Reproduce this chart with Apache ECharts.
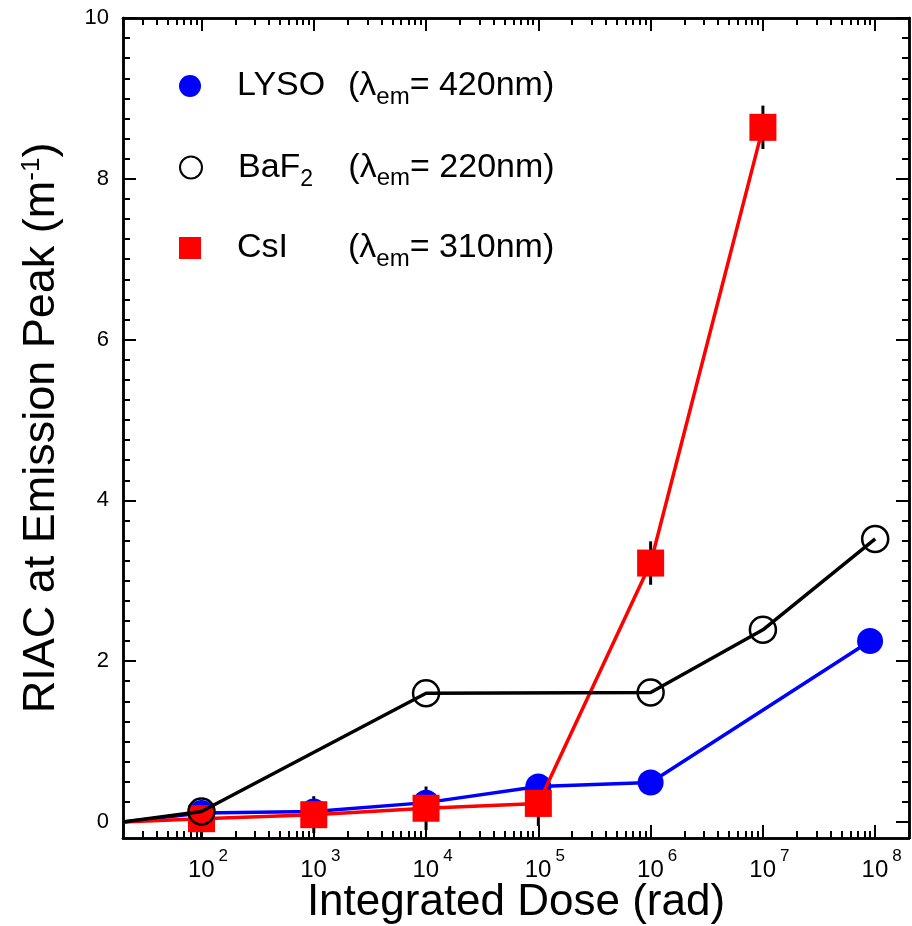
<!DOCTYPE html>
<html>
<head>
<meta charset="utf-8">
<script src="https://cdn.jsdelivr.net/npm/echarts@6/dist/echarts.min.js"></script>
<style>html,body{margin:0;padding:0;background:#fff}#c{width:912px;height:926px}</style>
</head>
<body>
<div id="c"></div>
<script>
// ---- data ----
const materials = ['LYSO', 'BaF2', 'CsI'];
const wavelengths = [420, 220, 310];
const lysoDose = [20, 1e2, 1e3, 1e4, 1e5, 1e6, 9e7];
const lysoRIAC = [0, 0.11, 0.13, 0.24, 0.44, 0.49, 2.25];
const baf2Dose = [20, 1e2, 1e4, 1e6, 1e7, 1e8];
const baf2RIAC = [0, 0.13, 1.60, 1.61, 2.39, 3.52];
const csiDose = [20, 1e2, 1e3, 1e4, 1e5, 1e6, 1e7];
const csiRIAC = [0, 0.04, 0.09, 0.17, 0.23, 3.22, 8.64];
const csiErr = [0, 0.23, 0.23, 0.27, 0.28, 0.27, 0.27];
const xMinDose = 20, xMaxDose = 2e8;
const xMajorExp = [2, 3, 4, 5, 6, 7, 8];
const yMin = -0.2, yMax = 10;
const yMajor = [0, 2, 4, 6, 8, 10];

// ---- helpers ----
const FONT = "'Liberation Sans', Arial, sans-serif";
const lg = Math.log10;
const xMin = lg(xMinDose), xMax = lg(xMaxDose);
const xMinor = [];
for (let k = 1; k <= 8; k++) for (let m = 2; m <= 9; m++) {
  const v = lg(m * Math.pow(10, k));
  if (v >= xMin - 1e-9 && v <= xMax + 1e-9) xMinor.push(v);
}
const yMinor = [];
for (let i = 1; i <= 40; i++) { const v = i * 0.25; if (v % 2 !== 0) yMinor.push(v); }

function pts(d, v) {
  return d.map((x, i) => i === 0 ? { value: [lg(x), v[i]], symbol: 'none' } : [lg(x), v[i]]);
}
const errData = csiDose.map((d, i) => [lg(d), csiRIAC[i] - csiErr[i], csiRIAC[i] + csiErr[i]]).filter((r, i) => csiErr[i] > 0);

const AX = { color: '#000', width: 2.5 };
function xAx(pos, ticks, len, labels) {
  return {
    type: 'value', position: pos, min: xMin, max: xMax,
    axisLine: { show: true, onZero: false, lineStyle: AX },
    splitLine: { show: false },
    axisTick: { show: true, inside: true, length: len, customValues: ticks, lineStyle: { color: '#000', width: 2 } },
    axisLabel: labels ? {
      show: true, customValues: xMajorExp, margin: 17,
      formatter: v => '{sp| }{b|10}{s|' + Math.round(v) + '}',
      rich: {
        sp: { width: 13, fontSize: 24, lineHeight: 30 },
        b: { fontSize: 24, lineHeight: 30, color: '#000', fontFamily: FONT },
        s: { fontSize: 17, lineHeight: 30, color: '#000', fontFamily: FONT, padding: [0, 0, 28, 4] }
      }
    } : { show: false }
  };
}
function yAx(pos, ticks, len, labels) {
  return {
    type: 'value', position: pos, min: yMin, max: yMax,
    axisLine: { show: true, onZero: false, lineStyle: AX },
    splitLine: { show: false },
    axisTick: { show: true, inside: true, length: len, customValues: ticks, lineStyle: { color: '#000', width: 2 } },
    axisLabel: labels ? { show: true, customValues: yMajor, margin: 14, fontSize: 22, color: '#000', fontFamily: FONT, formatter: v => String(Math.round(v)) } : { show: false }
  };
}

const xAxes = [xAx('bottom', xMajorExp, 13, true), xAx('bottom', xMinor, 7, false), xAx('top', xMajorExp, 13, false), xAx('top', xMinor, 7, false)];
xAxes[0].name = 'Integrated Dose (rad)';
xAxes[0].nameLocation = 'middle';
xAxes[0].nameGap = 43;
xAxes[0].nameMoveOverlap = false;
xAxes[0].nameTextStyle = { fontSize: 44, lineHeight: 44, color: '#000', fontFamily: FONT };
const yAxes = [yAx('left', yMajor, 13, true), yAx('left', yMinor, 7, false), yAx('right', yMajor, 13, false), yAx('right', yMinor, 7, false)];
yAxes[0].name = '{t|RIAC at Emission Peak (m}{s|-1}{t|)}';
yAxes[0].nameLocation = 'middle';
yAxes[0].nameGap = 56;
yAxes[0].nameMoveOverlap = false;
yAxes[0].nameTextStyle = {
  rich: {
    t: { fontSize: 45, lineHeight: 50, color: '#000', fontFamily: FONT },
    s: { fontSize: 26, lineHeight: 50, color: '#000', fontFamily: FONT, padding: [0, 0, 20, 0] }
  }
};

const legRich = {
  sp: { width: 31, fontSize: 34, lineHeight: 40 },
  n: { width: 111, fontSize: 34, lineHeight: 40, color: '#000', fontFamily: FONT },
  nb: { fontSize: 34, lineHeight: 40, color: '#000', fontFamily: FONT },
  nbs: { width: 48, fontSize: 23, lineHeight: 40, color: '#000', fontFamily: FONT, padding: [24, 0, 0, 0] },
  p: { fontSize: 34, lineHeight: 40, color: '#000', fontFamily: FONT },
  s: { fontSize: 24, lineHeight: 40, color: '#000', fontFamily: FONT, padding: [22, 0, 0, 0] }
};
function legFmt(name) {
  const i = materials.indexOf(name);
  const nm = name === 'BaF2' ? '{nb|BaF}{nbs|2}' : '{n|' + name + '}';
  return '{sp| }' + nm + '{p|(λ}{s|em}{p|= ' + wavelengths[i] + 'nm)}';
}
const icons = ['circle', 'circle', 'rect'];
const legendCenters = [83, 164, 245];
const legends = materials.map((m, i) => ({
  data: [{ name: m, icon: icons[i] }], orient: 'vertical', left: 179, top: legendCenters[i] - 20,
  padding: 0, itemWidth: 22, itemHeight: 22, selectedMode: false,
  formatter: legFmt, textStyle: { rich: legRich }
}));

const option = {
  animation: false,
  backgroundColor: '#fff',
  grid: { left: 123, right: 3, top: 18, bottom: 88, containLabel: false, outerBoundsMode: 'none' },
  xAxis: xAxes,
  yAxis: yAxes,
  legend: legends,
  series: [
    {
      type: 'custom', name: 'err', z: 1, xAxisIndex: 0, yAxisIndex: 0,
      encode: { x: 0, y: [1, 2] }, data: errData, silent: true,
      renderItem: (params, api) => {
        const x = api.value(0);
        const p1 = api.coord([x, api.value(1)]);
        const p2 = api.coord([x, api.value(2)]);
        return { type: 'line', shape: { x1: p1[0], y1: p1[1], x2: p2[0], y2: p2[1] }, style: { stroke: '#000', lineWidth: 3 } };
      }
    },
    {
      type: 'line', name: 'LYSO', z: 2, data: pts(lysoDose, lysoRIAC), symbol: 'circle', symbolSize: 26,
      lineStyle: { color: '#0000ff', width: 3.5 }, itemStyle: { color: '#0000ff' }, emphasis: { disabled: true }
    },
    {
      type: 'line', name: 'CsI', z: 3, data: pts(csiDose, csiRIAC), symbol: 'rect', symbolSize: 27,
      lineStyle: { color: '#ff0000', width: 3.5 }, itemStyle: { color: '#ff0000' }, emphasis: { disabled: true }
    },
    {
      type: 'line', name: 'BaF2', z: 4, data: pts(baf2Dose, baf2RIAC), symbol: 'circle', symbolSize: 26,
      lineStyle: { color: '#000', width: 3.5 }, itemStyle: { color: 'rgba(0,0,0,0)', borderColor: '#000', borderWidth: 2.5 }, emphasis: { disabled: true }
    }
  ]
};
const chart = echarts.init(document.getElementById('c'), null, { renderer: 'canvas' });
chart.setOption(option);
</script>
</body>
</html>
